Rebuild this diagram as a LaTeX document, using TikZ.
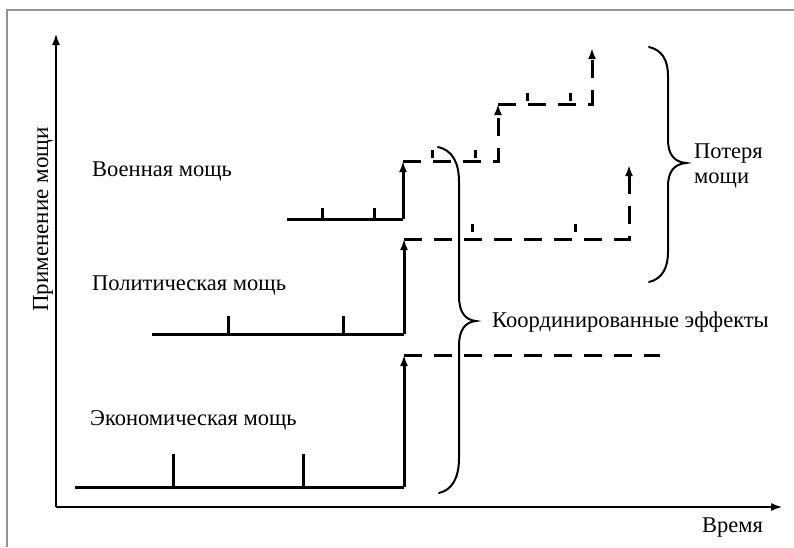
\documentclass[tikz,border=0pt]{standalone}
\usepackage{fontspec}
\setmainfont{Liberation Serif}
\usetikzlibrary{arrows.meta}
\begin{document}
\begin{tikzpicture}[x=1pt,y=-1pt,
  lbl/.style={font=\fontsize{22.5}{25}\selectfont, inner sep=0pt, anchor=base west},
  axis/.style={line width=2.6pt, -{Latex[length=12pt,width=8pt]}},
  stepline/.style={line width=3pt},
  steparrow/.style={line width=3pt, -{Latex[length=11pt,width=8pt]}},
  dashline/.style={line width=3pt, dash pattern=on 18pt off 12pt},
  dasharrow/.style={line width=3pt, dash pattern=on 18pt off 12pt, -{Latex[length=11pt,width=8pt]}},
  tickmark/.style={line width=3pt},
  bracepath/.style={line width=2pt, line cap=round}]
\useasboundingbox (0,0) rectangle (794,547);
\fill[white] (0,0) rectangle (794,547);
% frame
\draw[gray!85, line width=1.4pt] (7,547) -- (7,10) -- (794,10);

% axes
\coordinate (O) at (56,507);
\coordinate (Ytop) at (56,33);
\coordinate (Xend) at (783,507);
\draw[axis] (O) -- (Ytop);
\draw[axis] (O) -- (Xend);
\node[lbl, rotate=90, font=\fontsize{23}{25}\selectfont] (ylab) at (48,312) {Применение мощи};
\node[lbl] (xlab) at (702,532) {Время};

% economic
\coordinate (e0) at (75,487);
\coordinate (e1) at (404,487);
\coordinate (e2) at (404,355);
\coordinate (e3) at (660,355);
\draw[stepline] (e0) -- (e1);
\draw[steparrow] (e1) -- (e2);
\draw[dashline] (e2) -- (e3);
\draw[tickmark] (173,487) -- (173,454);
\draw[tickmark] (303,487) -- (303,454);
\node[lbl] (econ) at (90,425) {Экономическая мощь};

% political
\coordinate (p0) at (152,334);
\coordinate (p1) at (404,334);
\coordinate (p2) at (404,239);
\coordinate (p3) at (629,239);
\coordinate (p4) at (629,165);
\draw[stepline] (p0) -- (p1);
\draw[steparrow] (p1) -- (p2);
\draw[dasharrow] (p2) -- (p3) -- (p4);
\draw[tickmark] (228,334) -- (228,316);
\draw[tickmark] (343,334) -- (343,316);
\draw[tickmark] (472,224) -- (472,232);
\draw[tickmark] (575,224) -- (575,232);
\node[lbl] (pol) at (92,290) {Политическая мощь};

% military
\coordinate (m0) at (287,219);
\coordinate (m1) at (403,219);
\coordinate (m2) at (403,161);
\coordinate (m3) at (498,161);
\coordinate (m4) at (498,104);
\coordinate (m5) at (592,104);
\coordinate (m6) at (592,48);
\draw[stepline] (m0) -- (m1);
\draw[steparrow] (m1) -- (m2);
\draw[dasharrow] (m2) -- (m3) -- (m4);
\draw[dasharrow] (m4) -- (m5) -- (m6);
\draw[tickmark] (322,219) -- (322,208);
\draw[tickmark] (374,219) -- (374,208);
\draw[tickmark] (432,150) -- (432,158);
\draw[tickmark] (475,150) -- (475,158);
\draw[tickmark] (527,93) -- (527,101);
\draw[tickmark] (570,93) -- (570,101);
\node[lbl] (mil) at (92,176) {Военная мощь};

% big brace
\draw[bracepath] (438,147) .. controls (452,150) and (459,162) .. (459,182)
  -- (459,296) .. controls (459,312) and (465,320) .. (476,321)
  .. controls (465,322) and (459,330) .. (459,346)
  -- (459,458) .. controls (459,478) and (452,490) .. (439,493);
\node[lbl] (coord) at (492,327) {Координированные эффекты};

% small brace
\draw[bracepath] (649,47) .. controls (662,50) and (668,60) .. (668,76)
  -- (668,140) .. controls (668,154) and (674,162) .. (686,163)
  .. controls (674,164) and (668,172) .. (668,186)
  -- (668,252) .. controls (668,268) and (662,279) .. (649,282);
\node[lbl] (loss1) at (694,158) {Потеря};
\node[lbl] (loss2) at (694,183) {мощи};
\end{tikzpicture}
\end{document}
